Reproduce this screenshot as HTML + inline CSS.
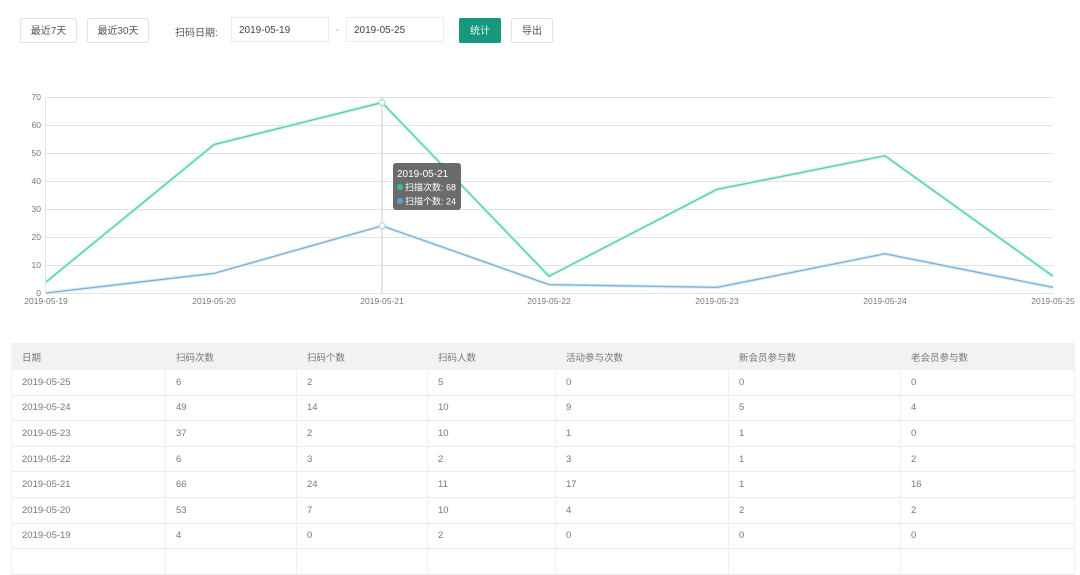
<!DOCTYPE html>
<html>
<head>
<meta charset="utf-8">
<style>
  html,body{margin:0;padding:0;background:#fff;}
  body{width:1080px;height:552px;position:relative;overflow:hidden;font-family:"Liberation Sans","Noto Sans CJK SC",sans-serif;color:#666;}
  .btn{position:absolute;top:18px;height:25px;box-sizing:border-box;border:1px solid #e2e2e2;border-radius:2px;background:#fff;font-size:10px;color:#555;line-height:25px;text-align:center;}
  .inp{position:absolute;top:17px;height:25px;box-sizing:border-box;border:1px solid #ececec;background:#fff;font-size:10px;color:#444;line-height:25px;padding-left:7px;}
  .lbl{position:absolute;font-size:10px;color:#555;}
  table{position:absolute;left:11px;top:343px;border-collapse:collapse;width:1063px;font-size:9.5px;color:#777;table-layout:fixed;}
  td,th{border:1px solid #ebebeb;height:25.6px;padding:0 0 0 10px;text-align:left;font-weight:normal;box-sizing:border-box;}
  th{background:#f2f2f2;height:26px;color:#777;border-color:#f2f2f2;}
  tr td{border-left-color:#f0f0f0;border-right-color:#f0f0f0;}
</style>
</head>
<body>
  <div class="btn" style="left:20px;width:57px;">最近7天</div>
  <div class="btn" style="left:87px;width:62px;">最近30天</div>
  <div class="lbl" style="left:175px;top:24px;">扫码日期:</div>
  <div class="inp" style="left:231px;width:98px;">2019-05-19</div>
  <div class="lbl" style="left:336px;top:25px;color:#999;">-</div>
  <div class="inp" style="left:346px;width:98px;">2019-05-25</div>
  <div class="btn" style="left:459px;width:42px;background:#17977d;border-color:#17977d;color:#e8f5f0;">统计</div>
  <div class="btn" style="left:511px;width:42px;">导出</div>

  <svg width="1080" height="330" style="position:absolute;left:0;top:0;" xmlns="http://www.w3.org/2000/svg">
    <g stroke="#e3e3e3" stroke-width="1">
      <line x1="46" y1="97.5" x2="1053" y2="97.5"/>
      <line x1="46" y1="125.5" x2="1053" y2="125.5"/>
      <line x1="46" y1="153.5" x2="1053" y2="153.5"/>
      <line x1="46" y1="181.5" x2="1053" y2="181.5"/>
      <line x1="46" y1="209.5" x2="1053" y2="209.5"/>
      <line x1="46" y1="237.5" x2="1053" y2="237.5"/>
      <line x1="46" y1="265.5" x2="1053" y2="265.5"/>
      <line x1="46" y1="293.5" x2="1053" y2="293.5"/>
      <line x1="45.5" y1="97" x2="45.5" y2="293"/>
    </g>
    <g font-size="8.5" fill="#777" text-anchor="end" font-family="Liberation Sans, sans-serif">
      <text x="41" y="100">70</text>
      <text x="41" y="128">60</text>
      <text x="41" y="156">50</text>
      <text x="41" y="184">40</text>
      <text x="41" y="212">30</text>
      <text x="41" y="240">20</text>
      <text x="41" y="268">10</text>
      <text x="41" y="296">0</text>
    </g>
    <g font-size="8.5" fill="#777" text-anchor="middle" font-family="Liberation Sans, sans-serif">
      <text x="46" y="304">2019-05-19</text>
      <text x="214" y="304">2019-05-20</text>
      <text x="382" y="304">2019-05-21</text>
      <text x="549" y="304">2019-05-22</text>
      <text x="717" y="304">2019-05-23</text>
      <text x="885" y="304">2019-05-24</text>
      <text x="1053" y="304">2019-05-25</text>
    </g>
    <line x1="382" y1="97" x2="382" y2="293" stroke="#c8c8c8" stroke-width="1"/>
    <polyline points="46,282 214,144.6 382,102.6 549,276.2 717,189.4 885,155.8 1053,276.2" fill="none" stroke="#d6f5ea" stroke-width="3.5"/>
    <polyline points="46,282 214,144.6 382,102.6 549,276.2 717,189.4 885,155.8 1053,276.2" fill="none" stroke="#4fd0a3" stroke-width="1.3"/>
    <polyline points="46,293 214,273.4 382,225.8 549,284.6 717,287.4 885,253.8 1053,287.4" fill="none" stroke="#e0edf7" stroke-width="3.5"/>
    <polyline points="46,293 214,273.4 382,225.8 549,284.6 717,287.4 885,253.8 1053,287.4" fill="none" stroke="#7ab0d8" stroke-width="1.3"/>
    <circle cx="382" cy="102.6" r="3" fill="#fff" stroke="#9ee5cb" stroke-width="1.2"/>
    <circle cx="382" cy="225.8" r="3" fill="#fff" stroke="#b5d4ec" stroke-width="1.2"/>
    <rect x="393" y="163" width="68" height="47" rx="3" fill="#5e5e5e" fill-opacity="0.92"/>
    <text x="397" y="177" font-size="10" fill="#fff" font-family="Liberation Sans, sans-serif">2019-05-21</text>
    <circle cx="400" cy="187" r="3" fill="#2fc58a"/>
    <text x="405" y="190.5" font-size="9" fill="#fff" font-family="Liberation Sans, Noto Sans CJK SC, sans-serif">扫描次数: 68</text>
    <circle cx="400" cy="201" r="3" fill="#5fa0d6"/>
    <text x="405" y="204.5" font-size="9" fill="#fff" font-family="Liberation Sans, Noto Sans CJK SC, sans-serif">扫描个数: 24</text>
  </svg>

  <table>
    <colgroup>
      <col style="width:154px"><col style="width:131px"><col style="width:131px"><col style="width:128px"><col style="width:173px"><col style="width:172px"><col style="width:174px">
    </colgroup>
    <tr><th>日期</th><th>扫码次数</th><th>扫码个数</th><th>扫码人数</th><th>活动参与次数</th><th>新会员参与数</th><th>老会员参与数</th></tr>
    <tr><td>2019-05-25</td><td>6</td><td>2</td><td>5</td><td>0</td><td>0</td><td>0</td></tr>
    <tr><td>2019-05-24</td><td>49</td><td>14</td><td>10</td><td>9</td><td>5</td><td>4</td></tr>
    <tr><td>2019-05-23</td><td>37</td><td>2</td><td>10</td><td>1</td><td>1</td><td>0</td></tr>
    <tr><td>2019-05-22</td><td>6</td><td>3</td><td>2</td><td>3</td><td>1</td><td>2</td></tr>
    <tr><td>2019-05-21</td><td>66</td><td>24</td><td>11</td><td>17</td><td>1</td><td>16</td></tr>
    <tr><td>2019-05-20</td><td>53</td><td>7</td><td>10</td><td>4</td><td>2</td><td>2</td></tr>
    <tr><td>2019-05-19</td><td>4</td><td>0</td><td>2</td><td>0</td><td>0</td><td>0</td></tr>
    <tr><td></td><td></td><td></td><td></td><td></td><td></td><td></td></tr>
  </table>
</body>
</html>
